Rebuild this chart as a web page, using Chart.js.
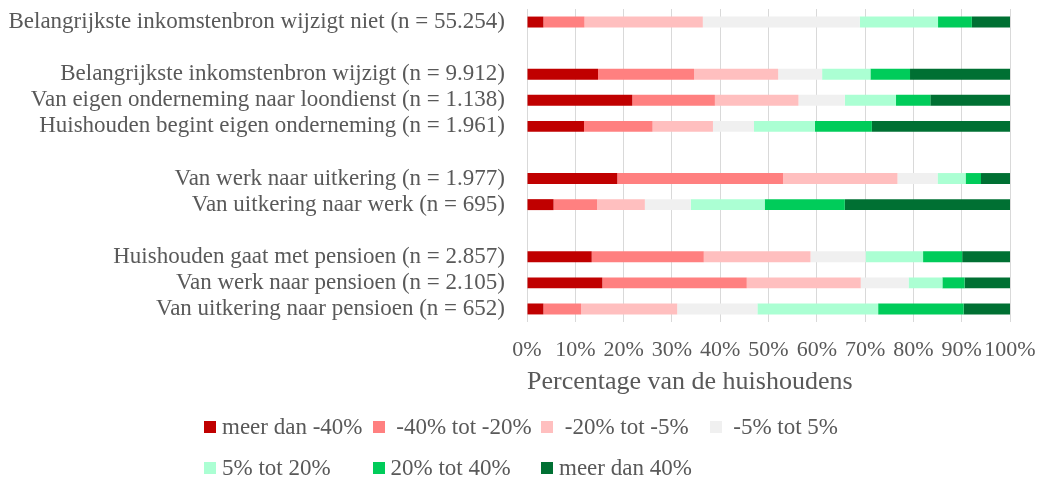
<!DOCTYPE html>
<html>
<head>
<meta charset="utf-8">
<script src="https://cdn.jsdelivr.net/npm/chart.js@4.4.1/dist/chart.umd.min.js"></script>
<style>
  html, body { margin: 0; padding: 0; background: #ffffff; }
  #wrap { position: relative; width: 1041px; height: 481px; overflow: hidden; }
  #legend { position: absolute; left: 0; top: 0; width: 1041px; height: 481px; pointer-events: none;
            font-family: "Liberation Serif", "Times New Roman", serif; font-size: 23px; color: #595959; }
  .li { position: absolute; height: 26px; display: flex; align-items: center; white-space: pre; }
  .box { width: 12px; height: 12px; margin-right: 6px; flex: none; }
</style>
</head>
<body>
<div id="wrap">
  <canvas id="c" width="1041" height="481"></canvas>
  <div id="legend"></div>
</div>
<script>
const categories = [
  'Belangrijkste inkomstenbron wijzigt niet (n = 55.254)',
  '',
  'Belangrijkste inkomstenbron wijzigt (n = 9.912)',
  'Van eigen onderneming naar loondienst (n = 1.138)',
  'Huishouden begint eigen onderneming (n = 1.961)',
  '',
  'Van werk naar uitkering (n = 1.977)',
  'Van uitkering naar werk (n = 695)',
  '',
  'Huishouden gaat met pensioen (n = 2.857)',
  'Van werk naar pensioen (n = 2.105)',
  'Van uitkering naar pensioen (n = 652)'
];

const seriesNames = ['meer dan -40%', ' -40% tot -20%', ' -20% tot -5%', ' -5% tot 5%', '5% tot 20%', '20% tot 40%', 'meer dan 40%'];
const seriesColors = ['#C00000', '#FF8080', '#FFBFBF', '#F0F0F0', '#ABFFD3', '#00CC5A', '#007033'];

const meerDanMin40 = [3.4, null, 14.7, 21.8, 11.8, null, 18.7, 5.5, null, 13.4, 15.6, 3.4];
const min40Tot20   = [8.5, null, 19.9, 17.1, 14.2, null, 34.3, 9.0, null, 23.2, 29.9, 7.8];
const min20Tot5    = [24.5, null, 17.4, 17.3, 12.5, null, 23.7, 9.9, null, 22.1, 23.6, 19.9];
const min5Tot5     = [32.5, null, 9.1, 9.6, 8.5, null, 8.3, 9.5, null, 11.4, 9.9, 16.6];
const p5Tot20      = [16.2, null, 10.0, 10.6, 12.6, null, 5.8, 15.3, null, 11.9, 7.0, 25.0];
const p20Tot40     = [7.0, null, 8.2, 7.1, 11.8, null, 3.2, 16.6, null, 8.1, 4.6, 17.7];
const meerDan40    = [7.9, null, 20.7, 16.5, 28.6, null, 6.0, 34.2, null, 9.9, 9.4, 9.6];

const xTickLabels = ['0%', '10%', '20%', '30%', '40%', '50%', '60%', '70%', '80%', '90%', '100%'];
const xTitle = 'Percentage van de huishoudens';

const seriesValues = [meerDanMin40, min40Tot20, min20Tot5, min5Tot5, p5Tot20, p20Tot40, meerDan40];

const FONT = '"Liberation Serif", "Times New Roman", serif';
Chart.defaults.font.family = FONT;
Chart.defaults.font.size = 22;
Chart.defaults.color = '#595959';

const datasets = seriesValues.map((vals, i) => ({
  label: seriesNames[i],
  data: vals,
  backgroundColor: seriesColors[i],
  borderWidth: 0,
  barPercentage: 0.42,
  categoryPercentage: 1.0
}));

new Chart(document.getElementById('c'), {
  type: 'bar',
  data: { labels: categories, datasets },
  options: {
    indexAxis: 'y',
    responsive: false,
    animation: false,
    layout: { padding: { top: 9, right: 31, bottom: 83, left: 0 } },
    plugins: { legend: { display: false }, tooltip: { enabled: false } },
    scales: {
      x: {
        stacked: true,
        min: 0, max: 100,
        ticks: {
          stepSize: 10, autoSkip: false, maxRotation: 0, minRotation: 0,
          padding: 15, color: '#595959', font: { size: 22 },
          callback: (v, i) => xTickLabels[i]
        },
        grid: { color: '#D9D9D9', lineWidth: 1, drawTicks: false },
        border: { display: false },
        title: { display: true, text: xTitle, align: 'start', color: '#595959', font: { size: 26 }, padding: { top: 0, bottom: 0 } },
        afterFit: (s) => { s.height = 76; s.paddingLeft = 0; s.paddingRight = 0; }
      },
      y: {
        stacked: true,
        ticks: { padding: 22, color: '#595959', autoSkip: false, font: { size: 23 } },
        grid: { display: false, drawTicks: false },
        border: { display: false },
        afterFit: (s) => { s.width = 527; s.paddingTop = 0; s.paddingBottom = 0; }
      }
    }
  }
});

const legend = document.getElementById('legend');
seriesNames.forEach((name, i) => {
  const col = i % 4, row = Math.floor(i / 4);
  const item = document.createElement('div');
  item.className = 'li';
  item.style.left = (204 + col * 168.5) + 'px';
  item.style.top = (427 - 13 + row * 41) + 'px';
  const box = document.createElement('span');
  box.className = 'box';
  box.style.background = seriesColors[i];
  const txt = document.createElement('span');
  txt.textContent = name;
  item.appendChild(box);
  item.appendChild(txt);
  legend.appendChild(item);
});
</script>
</body>
</html>
